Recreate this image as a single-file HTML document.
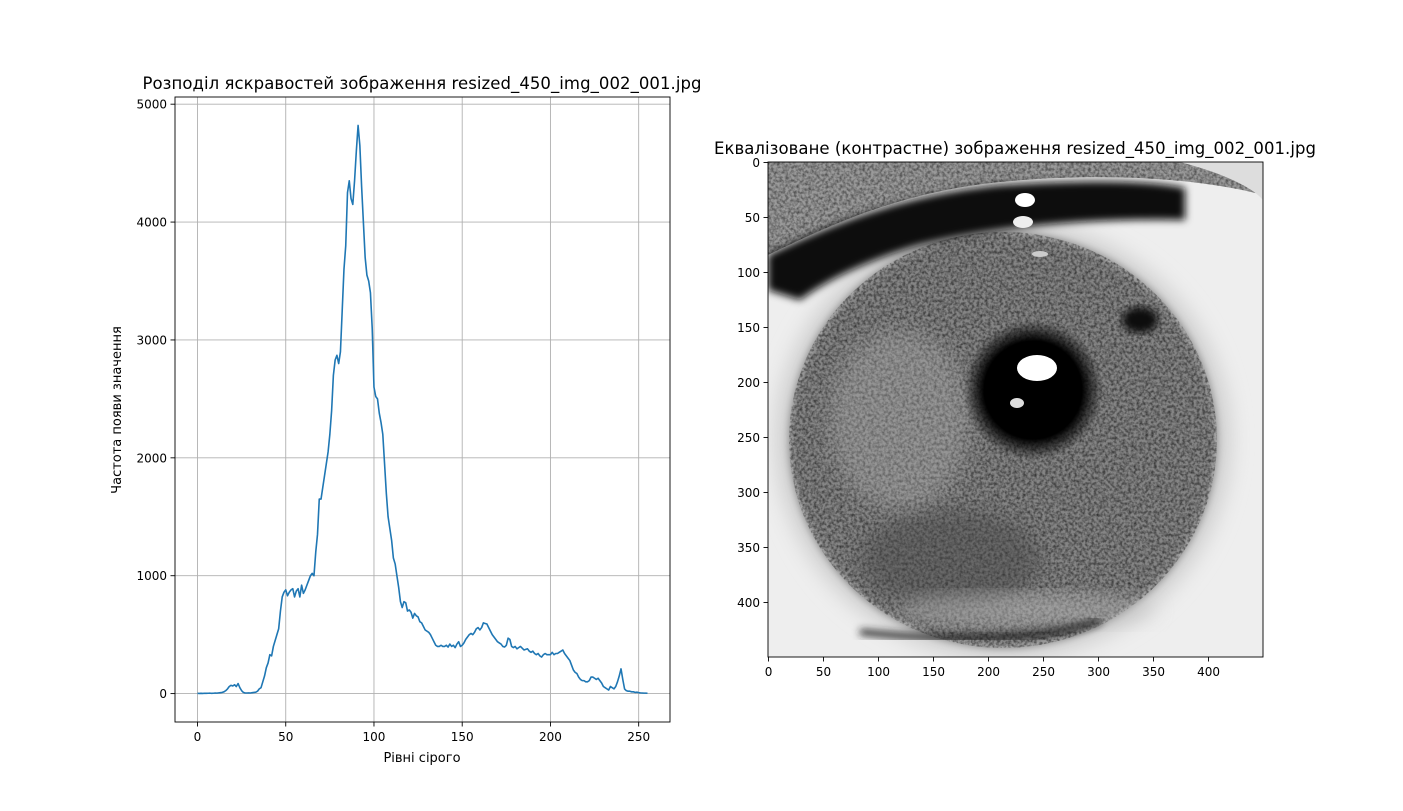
<!DOCTYPE html>
<html><head><meta charset="utf-8"><style>
html,body{margin:0;padding:0;background:#fff;}
svg{display:block;font-family:"DejaVu Sans","Liberation Sans",sans-serif;}
</style></head><body>
<svg id="fig" width="1403" height="811" viewBox="0 0 1403 811">
<defs>
<filter id="noise" x="0" y="0" width="100%" height="100%">
<feTurbulence type="fractalNoise" baseFrequency="0.35" numOctaves="2" seed="3" result="t"/>
<feColorMatrix in="t" type="matrix" values="0 0 0 0 0  0 0 0 0 0  0 0 0 0 0  0 0 0 1.6 -0.55" result="a"/>
<feComposite in="a" in2="SourceGraphic" operator="in"/>
</filter>
<filter id="blur4"><feGaussianBlur stdDeviation="4"/></filter>
<filter id="blur10"><feGaussianBlur stdDeviation="10"/></filter>
<radialGradient id="pupilGrad" cx="0.5" cy="0.5" r="0.5">
<stop offset="0.7" stop-color="#000"/><stop offset="1" stop-color="#000" stop-opacity="0"/>
</radialGradient>
<clipPath id="imgClip"><rect x="768" y="162" width="495" height="495"/></clipPath>
</defs>
<g id="hist"></g>
<g id="eye" clip-path="url(#imgClip)">
<rect x="768" y="162" width="495" height="495" fill="#eeeeee"/>
<ellipse cx="1003" cy="440" rx="228" ry="220" fill="#d0d0d0" filter="url(#blur10)"/>
<ellipse cx="1003" cy="440" rx="214" ry="208" fill="#858585" filter="url(#blur4)"/>
<ellipse cx="1003" cy="440" rx="214" ry="208" fill="#222" filter="url(#noise)" opacity="0.7"/>
<ellipse cx="950" cy="560" rx="90" ry="50" fill="#444" opacity="0.45" filter="url(#blur10)"/>
<ellipse cx="900" cy="420" rx="70" ry="90" fill="#bbb" opacity="0.3" filter="url(#blur10)"/>
<ellipse cx="1140" cy="320" rx="18" ry="13" fill="#111" filter="url(#blur4)"/>
<ellipse cx="1026" cy="610" rx="130" ry="18" fill="#bbb" opacity="0.5" filter="url(#blur10)"/>
<path d="M768,150 L1263,150 L1263,195 C1200,178 1100,172 1000,182 C900,192 830,225 768,255 Z" fill="#9a9a9a"/>
<path d="M768,150 L1263,150 L1263,195 C1200,178 1100,172 1000,182 C900,192 830,225 768,255 Z" fill="#111" filter="url(#noise)" opacity="0.6"/>
<path d="M1180,162 C1230,175 1255,190 1263,200 L1263,162 Z" fill="#ddd"/>
<path d="M768,255 C830,225 900,195 1000,185 C1080,180 1150,180 1185,188 L1185,220 C1100,218 1000,225 920,245 C860,262 820,285 800,300 L768,290 Z" fill="#111" filter="url(#blur4)"/>
<path d="M860,632 C950,642 1050,640 1100,620" stroke="#222" stroke-width="6" fill="none" filter="url(#blur4)"/>
<circle cx="1033" cy="390" r="70" fill="url(#pupilGrad)"/>
<ellipse cx="1037" cy="368" rx="20" ry="13" fill="#fff"/>
<ellipse cx="1017" cy="403" rx="7" ry="5" fill="#ddd"/>
<ellipse cx="1025" cy="200" rx="10" ry="7" fill="#fff"/>
<ellipse cx="1023" cy="222" rx="10" ry="6" fill="#eee"/>
<ellipse cx="1040" cy="254" rx="8" ry="3" fill="#ccc"/>
</g>
<g id="imgAxes"></g>
<text x="422" y="89" font-size="16.5" text-anchor="middle" textLength="559">Розподіл яскравостей зображення resized_450_img_002_001.jpg</text>
<text x="1015" y="154" font-size="16.5" text-anchor="middle" textLength="602">Еквалізоване (контрастне) зображення resized_450_img_002_001.jpg</text>
<text x="422" y="762" font-size="13" text-anchor="middle">Рівні сірого</text>
<text x="121" y="410" font-size="13" text-anchor="middle" transform="rotate(-90 121 410)">Частота появи значення</text>
</svg>
<script>
const counts = [
2,1,2,1,3,2,3,4,2,3,
5,4,6,8,10,15,25,40,60,70,
65,75,60,85,50,25,10,5,5,6,
5,8,10,12,20,40,50,100,150,220,
260,330,320,400,450,500,550,700,820,860,
880,830,860,880,890,820,870,890,820,920,
850,880,920,960,1000,1020,1000,1200,1350,1650,
1650,1750,1850,1950,2050,2200,2400,2700,2830,2870,
2800,2900,3250,3600,3800,4250,4350,4200,4150,4350,
4600,4820,4650,4300,4000,3700,3550,3500,3400,3100,
2600,2520,2500,2380,2300,2200,1950,1700,1500,1400,
1300,1150,1100,1000,900,780,730,780,770,700,
710,690,640,680,660,650,610,600,570,540,
530,520,500,470,440,410,400,400,410,400,
400,410,395,420,400,410,390,420,440,400,
410,430,460,480,500,510,500,520,550,560,
540,560,600,595,590,560,530,500,480,460,
440,430,420,400,395,410,470,460,400,390,
400,380,390,400,385,370,375,380,360,350,
360,340,330,340,320,310,330,340,330,330,
330,350,330,340,340,350,360,370,340,320,
300,280,240,200,180,170,140,120,110,110,
100,100,110,140,140,130,120,130,110,90,
60,50,40,30,60,50,40,60,100,150,
210,120,40,25,20,20,15,15,10,12,
8,6,5,4,4,3
];
const xTicks = [0,50,100,150,200,250];
const yTicks = [0,1000,2000,3000,4000,5000];
const imgTicksX = [0,50,100,150,200,250,300,350,400];
const imgTicksY = [0,50,100,150,200,250,300,350,400];

const NS = 'http://www.w3.org/2000/svg';
function mk(tag, attrs, parent){const e=document.createElementNS(NS,tag);for(const k in attrs)e.setAttribute(k,attrs[k]);parent.appendChild(e);return e;}

const L=175,R=670,T=97,B=722;
const n=counts.length-1;
const xmin=-n*0.05,xmax=n*1.05;
const ymax=Math.max(...counts)*1.05, ymin=-(Math.max(...counts))*0.05;
const sx=v=>L+(v-xmin)/(xmax-xmin)*(R-L);
const sy=v=>B-(v-ymin)/(ymax-ymin)*(B-T);
const g=document.getElementById('hist');
xTicks.forEach(t=>{
  const gl=mk('line',{x1:sx(t),x2:sx(t),y1:T,y2:B,stroke:'#b0b0b0','stroke-width':0.9},g);
  
  
  const tk=mk('line',{x1:sx(t),x2:sx(t),y1:B,y2:B+4.5,stroke:'#000','stroke-width':0.9},g);
  
  
  const tx=mk('text',{x:sx(t),y:B+19,'font-size':12,'text-anchor':'middle'},g);
  tx.textContent=t;
  
  
});
yTicks.forEach(t=>{
  const gl=mk('line',{x1:L,x2:R,y1:sy(t),y2:sy(t),stroke:'#b0b0b0','stroke-width':0.9},g);
  
  
  const tk=mk('line',{x1:L-4.5,x2:L,y1:sy(t),y2:sy(t),stroke:'#000','stroke-width':0.9},g);
  
  
  const tx=mk('text',{x:L-8,y:sy(t)+4.5,'font-size':12,'text-anchor':'end'},g);
  tx.textContent=t;
  
  
});
const pts=counts.map((c,i)=>sx(i).toFixed(2)+','+sy(c).toFixed(2)).join(' ');
const line=mk('polyline',{points:pts,fill:'none',stroke:'#1f77b4','stroke-width':1.6,'stroke-linejoin':'round'},g);


const fr=mk('rect',{x:L,y:T,width:R-L,height:B-T,fill:'none',stroke:'#000','stroke-width':0.9},g);



const IL=768,IR=1263,IT=162,IB=657;
const ix=v=>IL+(v+0.5)/450*(IR-IL);
const iy=v=>IT+(v+0.5)/450*(IB-IT);
const gi=document.getElementById('imgAxes');
imgTicksX.forEach(t=>{
  const tk=mk('line',{x1:ix(t),x2:ix(t),y1:IB,y2:IB+4.5,stroke:'#000','stroke-width':0.9},gi);
  
  
  const tx=mk('text',{x:ix(t),y:IB+19,'font-size':12,'text-anchor':'middle'},gi);
  tx.textContent=t;
  
  
});
imgTicksY.forEach(t=>{
  const tk=mk('line',{x1:IL-4.5,x2:IL,y1:iy(t),y2:iy(t),stroke:'#000','stroke-width':0.9},gi);
  
  
  const tx=mk('text',{x:IL-8,y:iy(t)+4.5,'font-size':12,'text-anchor':'end'},gi);
  tx.textContent=t;
  
  
});
const fr2=mk('rect',{x:IL,y:IT,width:IR-IL,height:IB-IT,fill:'none',stroke:'#000','stroke-width':0.9},gi);


</script>
</body></html>
